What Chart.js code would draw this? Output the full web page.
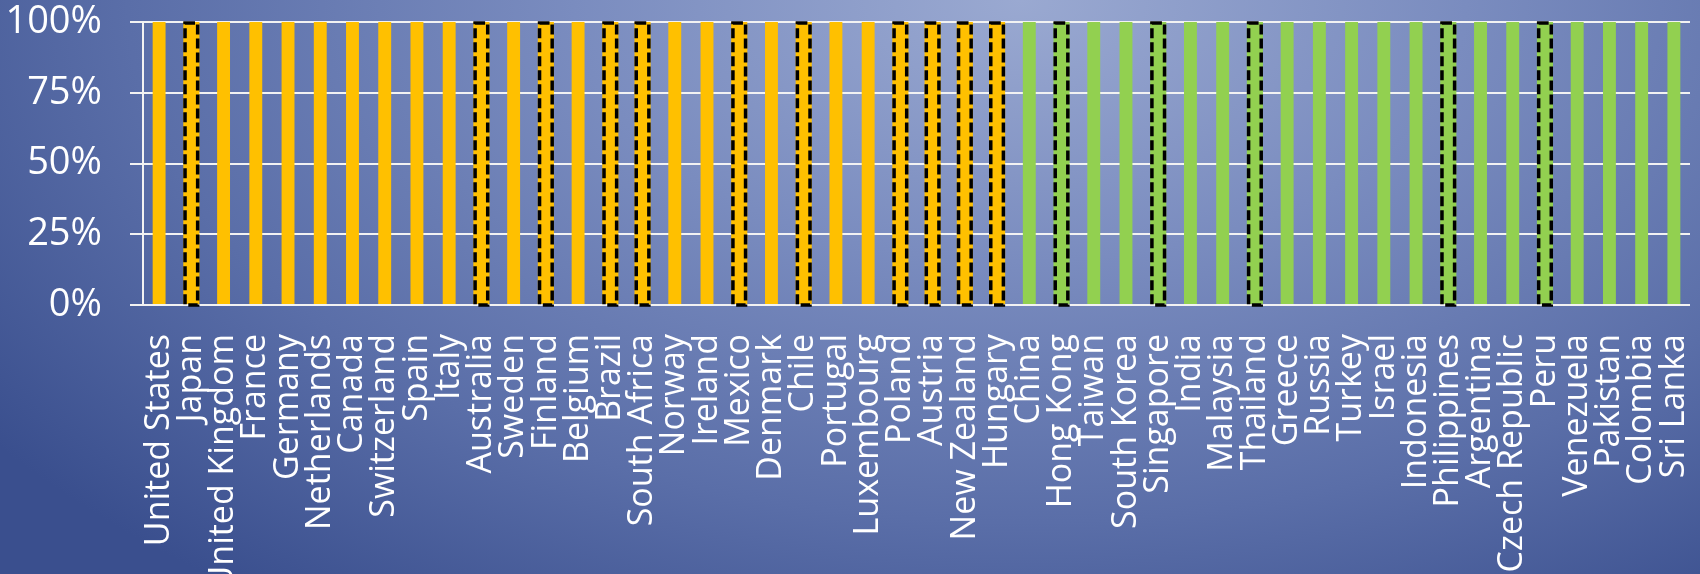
<!DOCTYPE html>
<html>
<head>
<meta charset="utf-8">
<script src="https://cdn.jsdelivr.net/npm/chart.js@4/dist/chart.umd.min.js"></script>
<style>
  html, body { margin: 0; padding: 0; width: 1700px; height: 574px; overflow: hidden; }
  body { background: radial-gradient(ellipse 75% 130% at 60% 0%, #9aa9d1 0%, #7a8cbf 35%, #5a6ea8 70%, #3a4f8e 100%); }
  #wrap { position: absolute; left: 0; top: 0; width: 1700px; height: 574px; }
</style>
</head>
<body>
<div id="wrap"><canvas id="c" width="1700" height="574"></canvas></div>
<script>
const categories = ["United States","Japan","United Kingdom","France","Germany","Netherlands","Canada","Switzerland","Spain","Italy","Australia","Sweden","Finland","Belgium","Brazil","South Africa","Norway","Ireland","Mexico","Denmark","Chile","Portugal","Luxembourg","Poland","Austria","New Zealand","Hungary","China","Hong Kong","Taiwan","South Korea","Singapore","India","Malaysia","Thailand","Greece","Russia","Turkey","Israel","Indonesia","Philippines","Argentina","Czech Republic","Peru","Venezuela","Pakistan","Colombia","Sri Lanka"];
const shareValues = [100,100,100,100,100,100,100,100,100,100,100,100,100,100,100,100,100,100,100,100,100,100,100,100,100,100,100,100,100,100,100,100,100,100,100,100,100,100,100,100,100,100,100,100,100,100,100,100];
const groups = ["dev","dev","dev","dev","dev","dev","dev","dev","dev","dev","dev","dev","dev","dev","dev","dev","dev","dev","dev","dev","dev","dev","dev","dev","dev","dev","dev","em","em","em","em","em","em","em","em","em","em","em","em","em","em","em","em","em","em","em","em","em"];
const dashedCountries = ["Japan","Australia","Finland","Brazil","South Africa","Mexico","Chile","Poland","Austria","New Zealand","Hungary","Hong Kong","Singapore","Thailand","Philippines","Peru"];
const yTicks = [0,25,50,75,100];

const groupColors = { dev: "#FFC000", em: "#92D050" };
const isDashed = categories.map(c => dashedCountries.includes(c));
const plainData = shareValues.map((v,i) => isDashed[i] ? null : v);
const dashedData = shareValues.map((v,i) => isDashed[i] ? v : null);
const barColors = groups.map(g => groupColors[g]);

const dashPlugin = {
  id: 'dashBorder',
  afterDatasetDraw(chart, args) {
    if (args.index !== 1) return;
    const meta = args.meta;
    const ctx = chart.ctx;
    ctx.save();
    ctx.setLineDash([10, 4]);
    ctx.lineWidth = 3.5;
    ctx.strokeStyle = '#000';
    meta.data.forEach((bar, i) => {
      if (dashedData[i] == null) return;
      const p = bar.getProps(['x','y','base','width'], true);
      const left = p.x - p.width / 2 + 1.75;
      const top = Math.min(p.y, p.base) + 1;
      const h = Math.abs(p.base - p.y);
      ctx.strokeRect(left, top, p.width - 3.5, h);
    });
    ctx.restore();
  }
};

new Chart(document.getElementById('c'), {
  type: 'bar',
  data: {
    labels: categories,
    datasets: [
      { data: plainData, backgroundColor: barColors, borderWidth: 0, barPercentage: 0.4, categoryPercentage: 1, grouped: false },
      { data: dashedData, backgroundColor: barColors, borderWidth: 0, barPercentage: 0.5, categoryPercentage: 1, grouped: false }
    ]
  },
  options: {
    responsive: false,
    animation: false,
    layout: { padding: { top: 22, right: 10, left: 0, bottom: 0 } },
    plugins: { legend: { display: false }, tooltip: { enabled: false } },
    scales: {
      x: {
        grid: { display: false, drawTicks: false },
        border: { display: false },
        ticks: {
          color: '#ffffff', autoSkip: false, minRotation: 90, maxRotation: 90, padding: 29,
          font: { family: '"Open Sans", sans-serif', size: 34 }
        },
        afterFit: (s) => { s.height = 269; s.paddingLeft = 0; s.paddingRight = 0; }
      },
      y: {
        min: 0, max: 100,
        afterBuildTicks: (s) => { s.ticks = yTicks.map(v => ({ value: v })); },
        grid: { color: '#f2f2f2', lineWidth: 2, drawTicks: true, tickLength: 13 },
        border: { display: true, color: '#f2f2f2', width: 2 },
        ticks: {
          color: '#ffffff', padding: 28,
          font: { family: '"Open Sans", sans-serif', size: 38 },
          callback: (v) => v + '%'
        },
        afterFit: (s) => { s.width = 143; s.paddingTop = 0; s.paddingBottom = 0; }
      }
    }
  },
  plugins: [dashPlugin]
});
</script>
</body>
</html>
